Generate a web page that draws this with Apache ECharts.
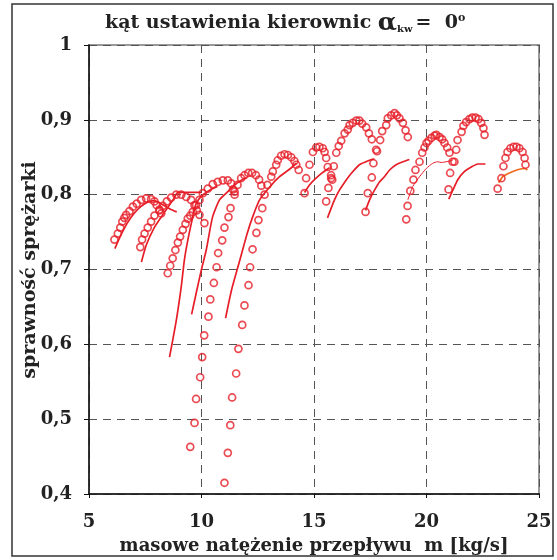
<!DOCTYPE html>
<html><head><meta charset="utf-8">
<script src="https://cdn.jsdelivr.net/npm/echarts@6/dist/echarts.min.js"></script>
<style>html,body{margin:0;padding:0;background:#fff}#c{width:557px;height:560px}</style>
</head><body><div id="c"></div>
<script>
// axis ticks
var xTicks = [5, 10, 15, 20, 25];
var yTickLabels = ['0,4', '0,5', '0,6', '0,7', '0,8', '0,9', '1'];

// circle series (constant-speed lines), [mass flow, efficiency]
var circ1 = [[6.13,0.74],[6.28,0.748],[6.39,0.756],[6.48,0.764],[6.57,0.769],[6.65,0.773],[6.8,0.778],[6.95,0.784],[7.12,0.788],[7.32,0.793],[7.54,0.795],[7.76,0.794],[7.91,0.791],[8.01,0.786],[8.13,0.78],[8.21,0.775]];
var circ2 = [[7.28,0.73],[7.36,0.74],[7.47,0.748],[7.61,0.756],[7.76,0.764],[7.91,0.772],[8.13,0.779],[8.28,0.785],[8.46,0.791],[8.65,0.796],[8.88,0.8],[9.1,0.8],[9.32,0.797],[9.54,0.793],[9.69,0.786],[9.79,0.779],[9.91,0.773],[10.13,0.762]];
var circ3 = [[8.5,0.695],[8.61,0.705],[8.72,0.715],[8.84,0.726],[8.95,0.736],[9.05,0.744],[9.17,0.753],[9.29,0.761],[9.39,0.768],[9.5,0.772],[9.61,0.777],[9.76,0.786],[9.91,0.793],[10.06,0.802],[10.28,0.808],[10.5,0.814],[10.72,0.817],[10.95,0.819],[11.17,0.819],[11.32,0.815],[11.4,0.807],[11.47,0.8]];
var circ4 = [[9.5,0.463],[9.69,0.495],[9.76,0.527],[9.94,0.556],[10.03,0.583],[10.12,0.612],[10.31,0.637],[10.39,0.66],[10.55,0.682],[10.67,0.703],[10.74,0.722],[10.92,0.739],[11.02,0.756],[11.2,0.77],[11.29,0.782],[11.47,0.804],[11.6,0.813],[11.76,0.822],[11.91,0.826],[12.08,0.829],[12.25,0.829],[12.42,0.826],[12.56,0.82],[12.66,0.812]];
var circ5 = [[11.02,0.415],[11.17,0.455],[11.28,0.492],[11.36,0.529],[11.54,0.561],[11.64,0.594],[11.81,0.626],[11.91,0.652],[12.09,0.679],[12.16,0.703],[12.27,0.727],[12.44,0.749],[12.53,0.766],[12.7,0.782],[12.8,0.8],[12.93,0.813],[13.1,0.824],[13.17,0.831],[13.32,0.84],[13.39,0.846],[13.54,0.852],[13.69,0.854],[13.84,0.853],[13.99,0.85],[14.13,0.845],[14.21,0.84],[14.32,0.833]];
var circ6 = [[14.58,0.802],[14.65,0.822],[14.8,0.84],[14.95,0.857],[15.1,0.863],[15.24,0.864],[15.39,0.862],[15.47,0.857],[15.54,0.849],[15.61,0.837],[15.76,0.826],[15.81,0.82]];
var circ7 = [[15.54,0.791],[15.64,0.809],[15.76,0.822],[15.88,0.838],[15.99,0.856],[16.1,0.865],[16.21,0.872],[16.36,0.882],[16.5,0.887],[16.58,0.893],[16.72,0.896],[16.88,0.899],[17.02,0.899],[17.14,0.895],[17.32,0.89],[17.44,0.882],[17.57,0.874],[17.76,0.86]];
var circ8 = [[17.29,0.777],[17.39,0.802],[17.57,0.823],[17.64,0.842],[17.8,0.858],[17.94,0.873],[18.03,0.885],[18.21,0.893],[18.28,0.902],[18.43,0.906],[18.58,0.909],[18.68,0.906],[18.8,0.902],[18.95,0.896],[19.07,0.886],[19.17,0.877]];
var circ9 = [[19.1,0.767],[19.16,0.785],[19.28,0.805],[19.42,0.82],[19.51,0.833],[19.69,0.844],[19.81,0.856],[19.91,0.863],[20.0,0.869],[20.09,0.872],[20.22,0.876],[20.36,0.879],[20.44,0.88],[20.58,0.877],[20.7,0.874],[20.8,0.869],[20.92,0.863],[21.02,0.856],[21.16,0.844]];
var circ10 = [[20.98,0.807],[21.05,0.829],[21.24,0.844],[21.32,0.86],[21.38,0.873],[21.56,0.884],[21.64,0.892],[21.76,0.897],[21.91,0.901],[22.03,0.903],[22.18,0.903],[22.31,0.901],[22.43,0.896],[22.53,0.889],[22.58,0.88]];
var circ11 = [[23.16,0.808],[23.33,0.822],[23.42,0.838],[23.51,0.849],[23.6,0.857],[23.73,0.862],[23.87,0.864],[24.0,0.864],[24.13,0.862],[24.27,0.857],[24.36,0.849],[24.4,0.84]];

// line series
var line1 = [[6.15,0.728],[6.4,0.745],[6.7,0.762],[7.0,0.775],[7.3,0.784],[7.6,0.79],[7.9,0.792],[8.2,0.788],[8.6,0.781],[8.9,0.777]];
var line2 = [[7.33,0.71],[7.55,0.733],[7.9,0.756],[8.25,0.772],[8.55,0.785],[8.8,0.796],[8.95,0.803],[9.5,0.803],[10.0,0.803]];
var line3 = [[8.58,0.583],[8.88,0.632],[9.1,0.677],[9.24,0.713],[9.39,0.739],[9.61,0.77],[9.76,0.788],[10.0,0.798],[10.36,0.806],[10.71,0.811]];
var line4 = [[9.56,0.64],[9.76,0.668],[9.99,0.699],[10.21,0.726],[10.49,0.77],[10.8,0.793],[11.1,0.802],[11.6,0.816],[12.0,0.823]];
var line5 = [[11.07,0.635],[11.33,0.672],[11.69,0.711],[12.04,0.749],[12.27,0.77],[12.58,0.793],[13.02,0.81],[13.47,0.824],[13.91,0.834],[14.22,0.842]];
var line6 = [[14.58,0.803],[14.8,0.813],[15.02,0.82],[15.32,0.828],[15.54,0.833],[15.69,0.836]];
var line7 = [[15.6,0.769],[15.91,0.793],[16.13,0.806],[16.44,0.82],[16.67,0.829],[17.02,0.84],[17.47,0.846],[17.69,0.848]];
var line8 = [[17.29,0.779],[17.47,0.793],[17.69,0.806],[17.91,0.817],[18.13,0.824],[18.36,0.833],[18.65,0.84],[18.95,0.844],[19.24,0.847]];
var line9 = [[19.17,0.793],[19.39,0.811],[19.69,0.824],[19.99,0.835],[20.28,0.842],[20.5,0.844],[20.65,0.843],[21.17,0.846]];
var line10 = [[20.99,0.794],[21.17,0.806],[21.39,0.82],[21.69,0.831],[21.99,0.837],[22.28,0.841],[22.62,0.841]];
var line11 = [[23.21,0.816],[23.39,0.824],[23.61,0.828],[23.84,0.831],[24.13,0.834],[24.36,0.835],[24.48,0.833]];

var circleSets = [circ1, circ2, circ3, circ4, circ5, circ6, circ7, circ8, circ9, circ10, circ11];
var lineSets = [line1, line2, line3, line4, line5, line6, line7, line8, line9, line10, line11];

var RED = '#e61e28';
var FONT = '"DejaVu Serif", "Liberation Serif", serif';

var series = [];
lineSets.forEach(function (d, i) {
  series.push({
    type: 'line', data: d, symbol: 'none', smooth: 0.2, z: 2,
    lineStyle: { color: i === 10 ? '#f06a1e' : RED, width: i === 8 ? 1 : 1.7 }
  });
});
circleSets.forEach(function (d) {
  series.push({
    type: 'scatter', data: d, symbol: 'circle', symbolSize: 7, z: 3,
    itemStyle: { color: 'rgba(255,255,255,0)', borderColor: RED, borderWidth: 1.7 }
  });
});

var chart = echarts.init(document.getElementById('c'), null, { renderer: 'canvas' });
chart.setOption({
  animation: false,
  grid: { left: 89, right: 18, top: 45, bottom: 66, show: true, borderColor: '#999', borderWidth: 2 },
  xAxis: {
    type: 'value', min: xTicks[0], max: xTicks[xTicks.length - 1], interval: 5,
    axisLine: { lineStyle: { color: '#111', width: 1.5 } },
    axisTick: { show: true, length: 4, lineStyle: { color: '#111' } },
    axisLabel: { fontFamily: FONT, fontWeight: 'bold', fontSize: 18, color: '#222', margin: 19 },
    splitLine: { show: true, lineStyle: { color: '#555', type: [8, 6], width: 1 } }
  },
  yAxis: {
    type: 'value', min: 0.4, max: 1, interval: 0.1,
    axisLine: { show: true, lineStyle: { color: '#111', width: 1.5 } },
    axisTick: { show: true, length: 5, lineStyle: { color: '#111' } },
    axisLabel: {
      fontFamily: FONT, fontWeight: 'bold', fontSize: 18, color: '#222', margin: 17,
      formatter: function (v) { return yTickLabels[Math.round((v - 0.4) * 10)]; }
    },
    splitLine: { show: true, lineStyle: { color: '#555', type: [8, 6], width: 1 } }
  },
  graphic: [
    { type: 'rect', shape: { x: 12, y: 4, width: 541, height: 552 },
      style: { fill: 'none', stroke: '#333', lineWidth: 1.5 }, z: 0 },
    { type: 'text', x: 105, y: 23,
      style: {
        text: '{t|kąt ustawienia kierownic }{a|α}{s|kw}{t|=  0}{o|o}',
        verticalAlign: 'middle',
        rich: {
          t: { fontFamily: FONT, fontWeight: 'bold', fontSize: 19, fill: '#222' },
          a: { fontFamily: FONT, fontWeight: 'bold', fontSize: 25, fill: '#222' },
          s: { fontFamily: FONT, fontWeight: 'bold', fontSize: 10, fill: '#222', padding: [12, 3, 0, 0] },
          o: { fontFamily: FONT, fontWeight: 'bold', fontSize: 11, fill: '#222', padding: [0, 0, 10, 0] }
        }
      } },
    { type: 'text', x: 314, y: 546,
      style: { text: 'masowe natężenie przepływu  m [kg/s]', fontFamily: FONT, fontWeight: 'bold', fontSize: 18,
        fill: '#222', align: 'center', verticalAlign: 'middle' } },
    { type: 'text', x: 30, y: 270, rotation: Math.PI / 2,
      style: { text: 'sprawność sprężarki', fontFamily: FONT, fontWeight: 'bold', fontSize: 19,
        fill: '#222', align: 'center', verticalAlign: 'middle' } }
  ],
  series: series
});
</script></body></html>
